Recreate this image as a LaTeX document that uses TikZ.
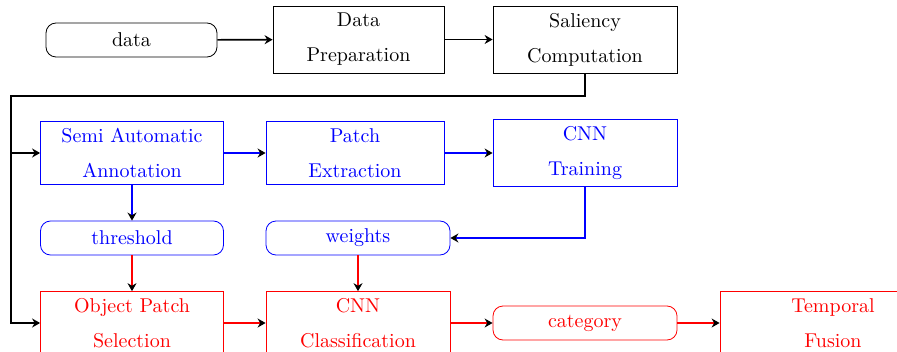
\documentclass[tikz,border=0pt]{standalone}
\usepackage{amsmath}
\usepackage{xcolor}
\usetikzlibrary{arrows.meta}
\tikzstyle{procbox} = [draw, rectangle, align=center, inner sep=3.33pt]
\tikzstyle{databox} = [draw, rectangle, rounded corners=5pt, align=center, minimum height=17pt]
\tikzstyle{flow} = [thick, -{Stealth[black, length=4pt, width=4.5pt, inset=1.3pt]}]

\begin{document}
\begin{tikzpicture}[x=1pt, y=-1pt]
        \useasboundingbox (0,0) rectangle (448.5,176);
        % stage 1: black
        \node [databox, minimum width=85.5pt] (data) at (65.75,20) {data};
        \node [procbox, minimum width=85.5pt, minimum height=33.5pt] (prep) at (179.25,19.75) {Data\\[5.5pt]Preparation};
        \node [procbox, minimum width=92pt, minimum height=33.5pt] (sal) at (292.5,19.75) {Saliency\\[5.5pt]Computation};
        % stage 2: blue
        \begin{scope}[blue]
        \node [procbox, minimum width=91.5pt, minimum height=31pt] (semi) at (66,76.5) {Semi Automatic\\[5.5pt]Annotation};
        \node [procbox, minimum width=89pt, minimum height=31pt] (patch) at (177.5,76.5) {Patch\\[5.5pt]Extraction};
        \node [procbox, minimum width=92pt, minimum height=33pt] (train) at (292.5,76.5) {CNN\\[5.5pt]Training};
        \node [databox, minimum width=91.5pt] (thresh) at (66,119) {threshold};
        \node [databox, minimum width=92pt] (weights) at (179,119) {weights};
        \end{scope}
        % stage 3: red
        \begin{scope}[red]
        \node [procbox, minimum width=91.5pt, minimum height=31pt] (select) at (66,161.5) {Object Patch\\[5.5pt]Selection};
        \node [procbox, minimum width=92pt, minimum height=31pt] (classify) at (179,161.5) {CNN\\[5.5pt]Classification};
        \node [databox, minimum width=92pt] (cat) at (292.5,161.5) {category};
        \node [procbox, minimum width=113pt, minimum height=31pt] (fusion) at (416.5,161.5) {Temporal\\[5.5pt]Fusion};
        \end{scope}
        \coordinate (bend) at (5.5,48);

        \draw [flow] (data) -- (prep);
        \draw [flow] (prep) -- (sal);
        \draw [flow] (sal.south) |- (bend) |- (select.west);
        \draw [flow] (bend |- semi.west) -- (semi.west);

        \draw [flow, blue] (semi) -- (patch);
        \draw [flow, blue] (patch) -- (train);
        \draw [flow, blue] (semi) -- (thresh);
        \draw [flow, blue] (train.south) |- (weights.east);

        \draw [flow, red] (thresh) -- (select);
        \draw [flow, red] (weights) -- (classify);
        \draw [flow, red] (select) -- (classify);
        \draw [flow, red] (classify) -- (cat);
        \draw [flow, red] (cat) -- (fusion);
    \end{tikzpicture}
\end{document}
